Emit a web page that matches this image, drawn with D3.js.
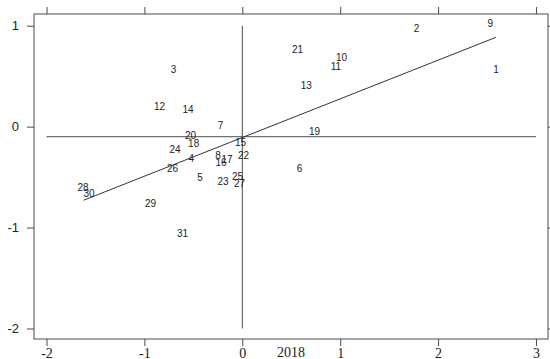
<!DOCTYPE html>
<html>
<head>
<meta charset="utf-8">
<script src="https://cdn.jsdelivr.net/npm/d3@7/dist/d3.min.js"></script>
<style>
  html, body { margin: 0; padding: 0; background: #fff; }
  svg { display: block; }
</style>
</head>
<body>
<div id="chart"></div>
<script>
// Point labels (observation numbers) and their coordinates
const labels = ['1','2','3','4','5','6','7','8','9','10','11','12','13','14','15','16',
  '17','18','19','20','21','22','23','24','25','26','27','28','29','30','31'];
const xValues = [2.591, 1.780, -0.702, -0.521, -0.432, 0.585, -0.222, -0.248, 2.533, 1.014,
  0.957, -0.845, 0.654, -0.555, -0.017, -0.218, -0.156, -0.497, 0.739, -0.528, 0.565,
  0.013, -0.197, -0.687, -0.048, -0.712, -0.028, -1.627, -0.937, -1.566, -0.610];
const yValues = [0.571, 0.973, 0.567, -0.317, -0.508, -0.416, 0.010, -0.287, 1.017, 0.686,
  0.594, 0.195, 0.406, 0.168, -0.161, -0.353, -0.327, -0.168, -0.047, -0.089, 0.762,
  -0.287, -0.545, -0.225, -0.498, -0.416, -0.561, -0.601, -0.759, -0.666, -1.059];

// Fitted line end points
const fitX = [-1.621, 2.591];
const fitY = [-0.729, 0.885];

// Reference lines
const hLineY = -0.1;
const hLineX = [-2, 3];
const vLineX = 0;
const vLineY = [-2, 1];

const xTicks = [-2, -1, 0, 1, 2, 3];
const yTicks = [-2, -1, 0, 1];
const xTitle = '2018';

const width = 550, height = 359;
const margin = { top: 14, right: 2, bottom: 20, left: 34 };
const lineColor = '#4a4a4a';

const svg = d3.select('#chart').append('svg')
  .attr('width', width)
  .attr('height', height);

const x = d3.scaleLinear()
  .domain([-2.128, 3.123])
  .range([margin.left, width - margin.right]);

const y = d3.scaleLinear()
  .domain([-2.104, 1.116])
  .range([height - margin.bottom, margin.top]);

// plain hyphen minus, as in the original
const plain = d => String(d);

// plot frame
svg.append('rect')
  .attr('x', margin.left)
  .attr('y', margin.top)
  .attr('width', width - margin.right - margin.left)
  .attr('height', height - margin.bottom - margin.top)
  .attr('fill', 'none')
  .attr('stroke', lineColor)
  .attr('stroke-width', 1);

// axes: ticks outside on all sides, labels on left and bottom only
function styleAxis(g) {
  g.select('.domain').remove();
  g.selectAll('.tick line').attr('stroke', lineColor);
}

svg.append('g')
  .attr('transform', `translate(0,${height - margin.bottom})`)
  .call(d3.axisBottom(x).tickValues(xTicks).tickSize(7).tickPadding(2).tickFormat(plain))
  .call(styleAxis)
  .call(g => g.selectAll('.tick text')
    .attr('font-family', '"Liberation Serif", "Times New Roman", serif')
    .attr('font-size', 14)
    .attr('fill', '#222'));

svg.append('g')
  .attr('transform', `translate(0,${margin.top})`)
  .call(d3.axisTop(x).tickValues(xTicks).tickSize(7).tickFormat(''))
  .call(styleAxis);

svg.append('g')
  .attr('transform', `translate(${margin.left},0)`)
  .call(d3.axisLeft(y).tickValues(yTicks).tickSize(7).tickPadding(8).tickFormat(plain))
  .call(styleAxis)
  .call(g => g.selectAll('.tick text')
    .attr('font-family', '"Liberation Sans", Arial, sans-serif')
    .attr('font-size', 13)
    .attr('fill', '#222'));

svg.append('g')
  .attr('transform', `translate(${width - margin.right},0)`)
  .call(d3.axisRight(y).tickValues(yTicks).tickSize(7).tickFormat(''))
  .call(styleAxis);

// x title
svg.append('text')
  .attr('x', 291)
  .attr('y', height - 2)
  .attr('text-anchor', 'middle')
  .attr('font-family', '"Liberation Serif", "Times New Roman", serif')
  .attr('font-size', 14)
  .attr('fill', '#222')
  .text(xTitle);

// reference lines
svg.append('line')
  .attr('x1', x(hLineX[0])).attr('x2', x(hLineX[1]))
  .attr('y1', y(hLineY)).attr('y2', y(hLineY))
  .attr('stroke', lineColor);

svg.append('line')
  .attr('x1', x(vLineX)).attr('x2', x(vLineX))
  .attr('y1', y(vLineY[0])).attr('y2', y(vLineY[1]))
  .attr('stroke', lineColor);

// fitted line
svg.append('path')
  .datum(fitX.map((d, i) => [d, fitY[i]]))
  .attr('d', d3.line().x(d => x(d[0])).y(d => y(d[1])))
  .attr('fill', 'none')
  .attr('stroke', '#333')
  .attr('stroke-width', 1);

// point labels
svg.append('g')
  .selectAll('text')
  .data(labels)
  .join('text')
  .attr('x', (d, i) => x(xValues[i]))
  .attr('y', (d, i) => y(yValues[i]))
  .attr('dy', '0.35em')
  .attr('text-anchor', 'middle')
  .attr('font-family', '"Liberation Sans", Arial, sans-serif')
  .attr('font-size', 10)
  .attr('fill', '#222')
  .text(d => d);
</script>
</body>
</html>
